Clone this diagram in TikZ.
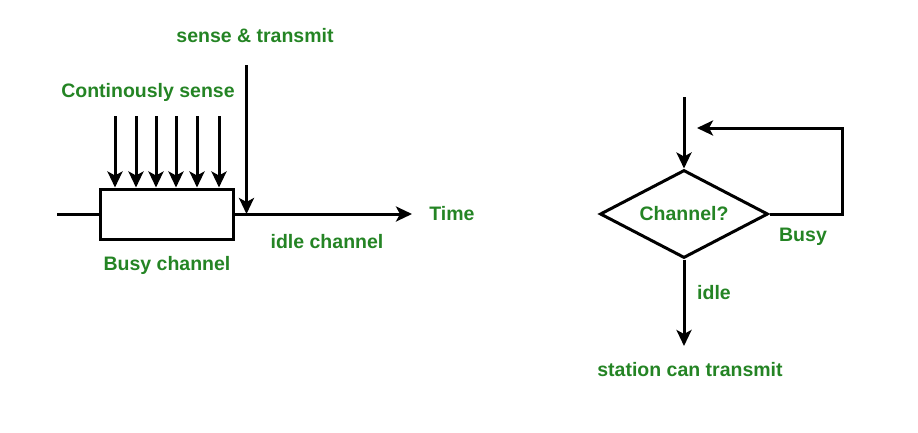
\documentclass[tikz,border=0pt]{standalone}
\usepackage{fontspec}
\setmainfont{Liberation Sans}
\usetikzlibrary{shapes.geometric,arrows.meta,positioning}

\definecolor{gfggreen}{RGB}{36,132,36}

\begin{document}
\begin{tikzpicture}[x=1pt,y=-1pt,
        every node/.style={font=\fontsize{19.5}{23}\selectfont\bfseries},
        lbl/.style={text=gfggreen},
        arr/.style={-{Stealth[length=16pt,width=15pt,inset=4pt]}, line width=3pt}]
        \useasboundingbox (0,0) rectangle (918,432);

        % Left part: busy channel on the time line
        \node[draw, line width=3pt, minimum width=133pt, minimum height=50pt, inner sep=0pt] (busy) at (166.5,214) {};
        \coordinate (tstart) at (57,214);
        \coordinate (tend) at (412,214);
        \draw[line width=3pt] (tstart) -- (busy.west);
        \draw[arr] (busy.east) -- (tend);

        \node[lbl] (time) at (452,214) {Time};
        \node[lbl] (idlech) at (327,242) {idle channel};
        \node[lbl] (busylbl) at (167,265) {Busy channel};
        \node[lbl] (cont) at (148,92) {Continously sense};
        \node[lbl] (sense) at (255,36) {sense \& transmit};

        % sensing arrows onto the busy channel
        \foreach \x in {115,136,156,176,197,219}
            \draw[arr] (\x,116) -- (\x,116 |- busy.north);

        % sense & transmit arrow
        \coordinate (stop) at (246.5,65);
        \coordinate (sbot) at (246.5,214);
        \draw[arr] (stop) -- (sbot);

        % Right part: flow chart
        \node[draw, diamond, line width=3pt, minimum width=168pt, minimum height=88pt, aspect=1.9, inner sep=0pt, lbl] (chan) at (684,214) {Channel?};
        \coordinate (ctop) at (684,97);
        \coordinate (loopa) at (842,214);
        \coordinate (loopb) at (842,128);
        \coordinate (loopc) at (697,128);
        \coordinate (cbot) at (684,346);
        \draw[arr] (ctop) -- (chan.north);
        \draw[arr] (chan.east) -- (loopa) -- (loopb) -- (loopc);
        \draw[arr] (chan.south) -- (cbot);

        \node[lbl] (busy2) at (803,237) {Busy};
        \node[lbl] (idle) at (714,293) {idle};
        \node[lbl] (station) at (690,370) {station can transmit};
\end{tikzpicture}
\end{document}
